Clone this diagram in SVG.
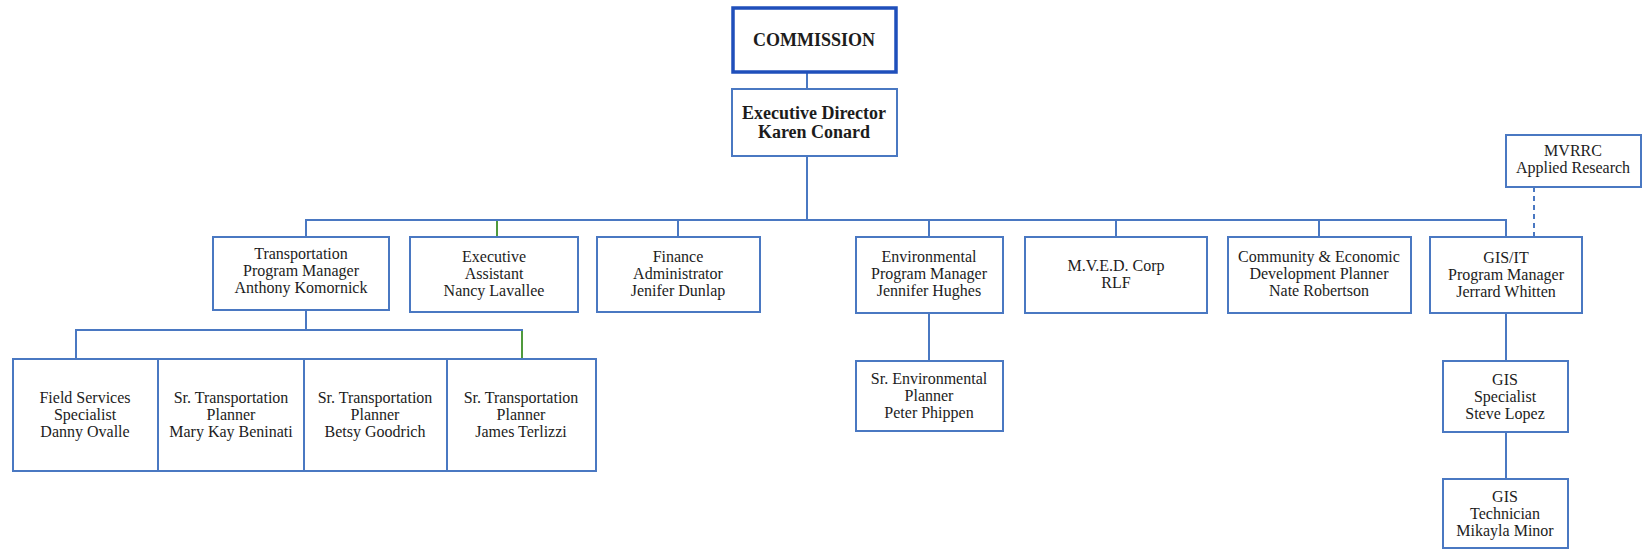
<svg xmlns="http://www.w3.org/2000/svg" width="1649" height="551" viewBox="0 0 1649 551">
<style>
.bx{fill:#fff;stroke:#4a78c2;stroke-width:2}
.top{fill:#fff;stroke:#1f4fbb;stroke-width:3.5}
.t{font-family:"Liberation Serif","Times New Roman",serif;font-size:16px;fill:#1c1c1c;text-anchor:middle}
.b{font-family:"Liberation Serif","Times New Roman",serif;font-size:18px;font-weight:bold;fill:#1c1c1c;text-anchor:middle}
.c{stroke:#4a78c2;stroke-width:2;fill:none}
.g{stroke:#4f9a3c;stroke-width:2;fill:none}
.d{stroke:#4a78c2;stroke-width:2;fill:none;stroke-dasharray:5 4}
</style>
<rect width="1649" height="551" fill="#fff"/>
<g id="connectors">
<line class="c" x1="807" y1="72" x2="807" y2="89"/>
<line class="c" x1="807" y1="156" x2="807" y2="220"/>
<line class="c" x1="305" y1="220" x2="1507" y2="220"/>
<line class="c" x1="306" y1="220" x2="306" y2="237"/>
<line class="g" x1="497" y1="221" x2="497" y2="237"/>
<line class="c" x1="678" y1="220" x2="678" y2="237"/>
<line class="c" x1="929" y1="220" x2="929" y2="237"/>
<line class="c" x1="1116" y1="220" x2="1116" y2="237"/>
<line class="c" x1="1319" y1="220" x2="1319" y2="237"/>
<line class="c" x1="1506" y1="220" x2="1506" y2="237"/>
<line class="c" x1="306" y1="310" x2="306" y2="330"/>
<line class="c" x1="75" y1="330" x2="523" y2="330"/>
<line class="c" x1="76" y1="330" x2="76" y2="359"/>
<line class="g" x1="522" y1="331" x2="522" y2="359"/>
<line class="c" x1="929" y1="313" x2="929" y2="361"/>
<line class="c" x1="1506" y1="313" x2="1506" y2="361"/>
<line class="c" x1="1506" y1="432" x2="1506" y2="479"/>
<line class="d" x1="1534" y1="187" x2="1534" y2="237"/>
</g>
<g id="commission"><rect class="top" x="733" y="8" width="163" height="64"/><text class="b" x="814" y="46">COMMISSION</text></g>
<g id="exec-director"><rect class="bx" x="732" y="89" width="165" height="67"/><text class="b" x="814" y="119">Executive Director</text><text class="b" x="814" y="138">Karen Conard</text></g>
<g id="transportation"><rect class="bx" x="213" y="237" width="176" height="73"/><text class="t" x="301" y="259">Transportation</text><text class="t" x="301" y="276">Program Manager</text><text class="t" x="301" y="293">Anthony Komornick</text></g>
<g id="exec-assistant"><rect class="bx" x="410" y="237" width="168" height="75"/><text class="t" x="494" y="262">Executive</text><text class="t" x="494" y="279">Assistant</text><text class="t" x="494" y="296">Nancy Lavallee</text></g>
<g id="finance"><rect class="bx" x="597" y="237" width="163" height="75"/><text class="t" x="678" y="262">Finance</text><text class="t" x="678" y="279">Administrator</text><text class="t" x="678" y="296">Jenifer Dunlap</text></g>
<g id="environmental"><rect class="bx" x="856" y="237" width="147" height="76"/><text class="t" x="929" y="262">Environmental</text><text class="t" x="929" y="279">Program Manager</text><text class="t" x="929" y="296">Jennifer Hughes</text></g>
<g id="mved"><rect class="bx" x="1025" y="237" width="182" height="76"/><text class="t" x="1116" y="271">M.V.E.D. Corp</text><text class="t" x="1116" y="288">RLF</text></g>
<g id="community"><rect class="bx" x="1228" y="237" width="183" height="76"/><text class="t" x="1319" y="262">Community &amp; Economic</text><text class="t" x="1319" y="279">Development Planner</text><text class="t" x="1319" y="296">Nate Robertson</text></g>
<g id="gis-it"><rect class="bx" x="1430" y="237" width="152" height="76"/><text class="t" x="1506" y="263">GIS/IT</text><text class="t" x="1506" y="280">Program Manager</text><text class="t" x="1506" y="297">Jerrard Whitten</text></g>
<g id="mvrrc"><rect class="bx" x="1506" y="135" width="135" height="52"/><text class="t" x="1573" y="156">MVRRC</text><text class="t" x="1573" y="173">Applied Research</text></g>
<g id="field-services"><rect class="bx" x="13" y="359" width="145" height="112"/><text class="t" x="85" y="403">Field Services</text><text class="t" x="85" y="420">Specialist</text><text class="t" x="85" y="437">Danny Ovalle</text></g>
<g id="beninati"><rect class="bx" x="158" y="359" width="146" height="112"/><text class="t" x="231" y="403">Sr. Transportation</text><text class="t" x="231" y="420">Planner</text><text class="t" x="231" y="437">Mary Kay Beninati</text></g>
<g id="goodrich"><rect class="bx" x="304" y="359" width="143" height="112"/><text class="t" x="375" y="403">Sr. Transportation</text><text class="t" x="375" y="420">Planner</text><text class="t" x="375" y="437">Betsy Goodrich</text></g>
<g id="terlizzi"><rect class="bx" x="447" y="359" width="149" height="112"/><text class="t" x="521" y="403">Sr. Transportation</text><text class="t" x="521" y="420">Planner</text><text class="t" x="521" y="437">James Terlizzi</text></g>
<g id="sr-environmental"><rect class="bx" x="856" y="361" width="147" height="70"/><text class="t" x="929" y="384">Sr. Environmental</text><text class="t" x="929" y="401">Planner</text><text class="t" x="929" y="418">Peter Phippen</text></g>
<g id="gis-specialist"><rect class="bx" x="1443" y="361" width="125" height="71"/><text class="t" x="1505" y="385">GIS</text><text class="t" x="1505" y="402">Specialist</text><text class="t" x="1505" y="419">Steve Lopez</text></g>
<g id="gis-technician"><rect class="bx" x="1443" y="479" width="125" height="69"/><text class="t" x="1505" y="502">GIS</text><text class="t" x="1505" y="519">Technician</text><text class="t" x="1505" y="536">Mikayla Minor</text></g>
</svg>
